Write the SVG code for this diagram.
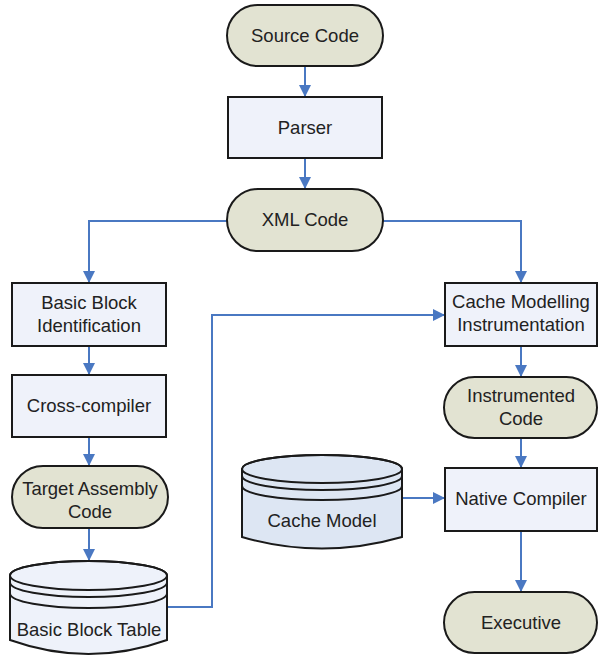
<svg xmlns="http://www.w3.org/2000/svg" width="598" height="656" viewBox="0 0 598 656">
<style>
.term{fill:#e2e3d2;stroke:#1a1a1a;stroke-width:2}
.box{fill:#eff2fa;stroke:#1a1a1a;stroke-width:2}
.cyl{stroke:#1a1a1a;stroke-width:2}
.ring{fill:none;stroke:#1a1a1a;stroke-width:2}
text{font-family:"Liberation Sans",Arial,sans-serif;font-size:18.5px;fill:#222;text-anchor:middle}
.c{fill:none;stroke:#4a78c2;stroke-width:2;marker-end:url(#ah)}
</style>
<defs>
<marker id="ah" markerUnits="userSpaceOnUse" markerWidth="12" markerHeight="12" viewBox="0 0 12 12" refX="12" refY="6" orient="auto">
<path d="M0,0 L12,6 L0,12 z" fill="#4a78c2"/>
</marker>
</defs>
<g id="connectors">
<path class="c" d="M305,66 V97"/>
<path class="c" d="M305,158 V189"/>
<path class="c" d="M227,221 H89 V283"/>
<path class="c" d="M383,221 H521 V283"/>
<path class="c" d="M89,346 V375"/>
<path class="c" d="M89,437 V466"/>
<path class="c" d="M89,528 V561"/>
<path class="c" d="M167,607 H212 V315 H445"/>
<path class="c" d="M521,346 V377"/>
<path class="c" d="M521,438 V468"/>
<path class="c" d="M402,498 H445"/>
<path class="c" d="M521,531 V592"/>
</g>
<g id="source-code">
<rect class="term" x="227" y="5" width="156" height="61" rx="30.5"/>
<text x="305" y="42">Source Code</text>
</g>
<g id="parser">
<rect class="box" x="228" y="97" width="154" height="61"/>
<text x="305" y="134">Parser</text>
</g>
<g id="xml-code">
<rect class="term" x="227" y="189" width="156" height="62" rx="31"/>
<text x="305" y="226">XML Code</text>
</g>
<g id="basic-block-identification">
<rect class="box" x="12" y="283" width="154" height="63"/>
<text x="89" y="309">Basic Block</text>
<text x="89" y="332">Identification</text>
</g>
<g id="cross-compiler">
<rect class="box" x="12" y="375" width="154" height="62"/>
<text x="89" y="412">Cross-compiler</text>
</g>
<g id="target-assembly-code">
<rect class="term" x="12" y="466" width="156" height="62" rx="31"/>
<text x="90" y="495">Target Assembly</text>
<text x="90" y="518">Code</text>
</g>
<g id="basic-block-table">
<path class="cyl" fill="#eef2fa" d="M10,575.5 A78.5,14.5 0 0 1 167,575.5 V640 Q88.5,668 10,640 Z"/>
<ellipse class="ring" cx="88.5" cy="575.5" rx="78.5" ry="14.5"/>
<path class="ring" d="M10,582.5 A78.5,14.5 0 0 0 167,582.5"/>
<path class="ring" d="M10,593.5 A78.5,14.5 0 0 0 167,593.5"/>
<text x="89" y="636">Basic Block Table</text>
</g>
<g id="cache-model">
<path class="cyl" fill="#dde6f3" d="M242,469 A80,14 0 0 1 402,469 V537 Q322,560 242,537 Z"/>
<ellipse class="ring" cx="322" cy="469" rx="80" ry="14"/>
<path class="ring" d="M242,476 A80,14 0 0 0 402,476"/>
<path class="ring" d="M242,486 A80,14 0 0 0 402,486"/>
<text x="322" y="527">Cache Model</text>
</g>
<g id="cache-modelling-instrumentation">
<rect class="box" x="445" y="283" width="152" height="63"/>
<text x="521" y="308">Cache Modelling</text>
<text x="521" y="331">Instrumentation</text>
</g>
<g id="instrumented-code">
<rect class="term" x="444" y="377" width="153" height="61" rx="30.5"/>
<text x="521" y="402">Instrumented</text>
<text x="521" y="425">Code</text>
</g>
<g id="native-compiler">
<rect class="box" x="445" y="468" width="152" height="63"/>
<text x="521" y="505">Native Compiler</text>
</g>
<g id="executive">
<rect class="term" x="444" y="592" width="153" height="61" rx="30.5"/>
<text x="521" y="629">Executive</text>
</g>
</svg>
